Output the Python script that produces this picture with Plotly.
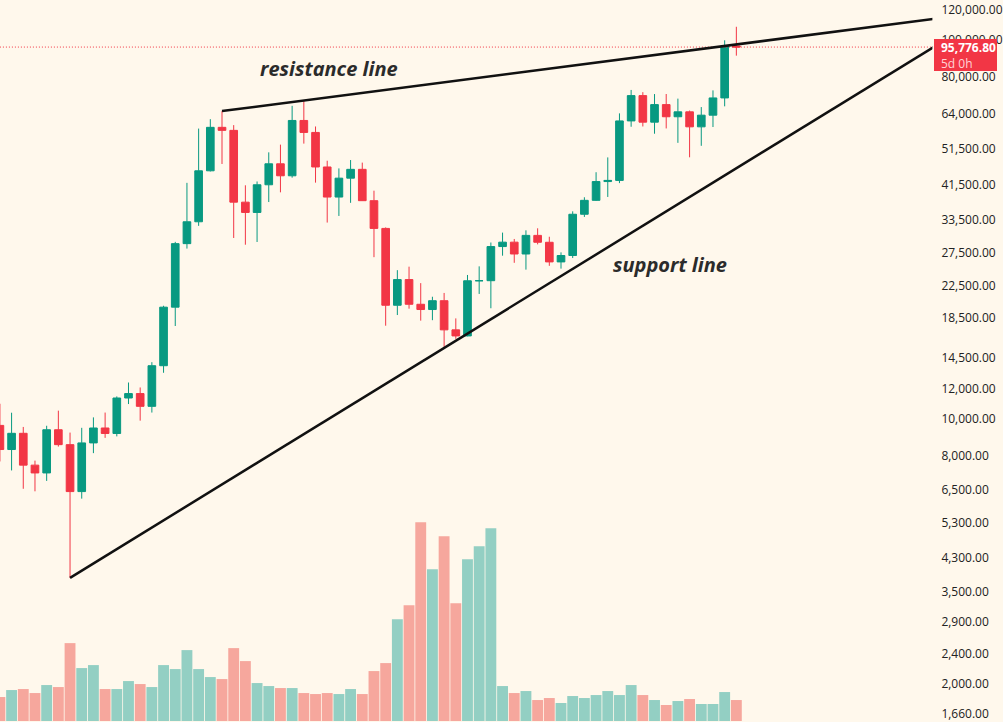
import numpy as np
import pandas as pd
import plotly.graph_objects as go

# ---------------- data (BTCUSD, 1M candles) ----------------
months = [str(p) for p in pd.period_range("2019-09", "2024-12", freq="M")]
future_months = [str(p) for p in pd.period_range("2025-01", "2026-06", freq="M")]

opens = [9600, 8290, 9150, 7540, 7190, 9350, 8540, 6420, 8630, 9450,
         9140, 11340, 11650, 10780, 13800, 19700, 28990, 33110, 45140, 58790,
         57720, 37300, 35040, 41460, 47100, 43790, 61300, 57000, 46200, 38480,
         43160, 45540, 37640, 31800, 19930, 23300, 20050, 19420, 20490, 17160,
         16540, 23130, 23140, 28480, 29250, 27220, 30480, 29230, 25940, 26970,
         34660, 37720, 42280, 42580, 61130, 71300, 60670, 67500, 62700, 64600,
         58970, 63300, 70300, 96400]
highs = [10950, 10370, 9510, 7750, 9580, 10500, 9190, 9460, 10080, 10380,
         11450, 12460, 12090, 14100, 19870, 29300, 41950, 58350, 61780, 64900,
         59590, 41330, 42300, 50500, 52920, 67000, 69000, 59100, 47990, 45800,
         48190, 47440, 40000, 31990, 24670, 25200, 22800, 20990, 21480, 18400,
         23960, 25250, 29190, 31000, 29820, 31430, 31820, 30230, 27490, 35280,
         38430, 44750, 48970, 64000, 73800, 72800, 71980, 72000, 70000, 65100,
         66500, 73600, 99800, 108350]
lows = [7710, 7300, 6530, 6430, 6850, 8440, 3800, 6150, 8110, 8900,
        8980, 10930, 9880, 10380, 13220, 17570, 28130, 32300, 44960, 47050,
        30000, 28800, 29280, 37330, 39600, 43290, 53250, 42000, 32950, 34300,
        37150, 37700, 26700, 17600, 18780, 19520, 18150, 18200, 15480, 16250,
        16500, 21350, 19570, 26940, 25800, 24750, 28860, 25330, 24900, 26560,
        34100, 37600, 38500, 41880, 59000, 59100, 56550, 58400, 53500, 49000,
        52550, 58900, 66800, 90900]
closes = [8290, 9150, 7540, 7190, 9350, 8540, 6420, 8630, 9450, 9140,
          11340, 11650, 10780, 13800, 19700, 28990, 33110, 45140, 58790, 57720,
          37300, 35040, 41460, 47100, 43790, 61300, 57000, 46200, 38480, 43160,
          45540, 37640, 31800, 19930, 23300, 20050, 19420, 20490, 17160, 16540,
          23130, 23140, 28480, 29250, 27220, 30480, 29230, 25940, 26970, 34660,
          37720, 42280, 42580, 61130, 71300, 60670, 67500, 62700, 64600, 58970,
          63300, 70300, 96400, 95776.80]
# volume (estimated, thousands of BTC)
volumes = [24, 31, 32, 28, 36, 34, 78, 53, 56, 32,
           32, 40, 37, 34, 56, 52, 71, 52, 44, 42,
           73, 60, 38, 35, 33, 33, 28, 27, 28, 27,
           32, 27, 50, 58, 102, 116, 199, 152, 185, 118,
           162, 175, 193, 35, 28, 30, 21, 23, 18, 25,
           23, 26, 30, 26, 36, 26, 21, 16, 20, 22,
           17, 17, 29, 21]

price_ticks = [120000, 100000, 80000, 64000, 51500, 41500, 33500, 27500,
               22500, 18500, 14500, 12000, 10000, 8000, 6500, 5300, 4300,
               3500, 2900, 2400, 2000, 1660]
price_tick_labels = [f"{v:,.2f}" for v in price_ticks]

support_x = ["2020-03", "2026-05"]
support_y = [3800, 96300]
resistance_x = ["2021-04", "2026-05"]
resistance_y = [64900, 113800]

last_price = closes[-1]
countdown = "5d 0h"

# ---------------- styles ----------------
BG = "#FFF8EC"
UP = "#089981"
DOWN = "#F23645"
UP_VOL = "#93CFC3"
DOWN_VOL = "#F6A79D"
TXT = "#2B2B2B"

vol_colors = [UP_VOL if c >= o else DOWN_VOL for o, c in zip(opens, closes)]

fig = go.Figure()

fig.add_trace(go.Bar(
    x=months, y=volumes, marker=dict(color=vol_colors, line=dict(width=0)),
    yaxis="y2", showlegend=False, hoverinfo="skip"))

fig.add_trace(go.Candlestick(
    x=months, open=opens, high=highs, low=lows, close=closes,
    increasing=dict(line=dict(color=UP, width=1), fillcolor=UP),
    decreasing=dict(line=dict(color=DOWN, width=1), fillcolor=DOWN),
    whiskerwidth=0, showlegend=False))

fig.add_trace(go.Scatter(
    x=[months[0], future_months[-2]], y=[last_price, last_price], mode="lines",
    line=dict(color=DOWN, width=1, dash="1px,2px"), showlegend=False, hoverinfo="skip"))

fig.add_trace(go.Scatter(
    x=support_x, y=support_y, mode="lines",
    line=dict(color="#111111", width=2.5), showlegend=False, hoverinfo="skip"))
fig.add_trace(go.Scatter(
    x=resistance_x, y=resistance_y, mode="lines",
    line=dict(color="#111111", width=2.5), showlegend=False, hoverinfo="skip"))

W, H = 1003, 722
plot_right = 938
ymin_px_price = 1591.3
ymax_px_price = 127510

label_font = dict(size=20, color=TXT, family="Open Sans", style="italic", weight=700)

fig.update_layout(
    width=W, height=H,
    margin=dict(l=0, r=0, t=0, b=0),
    paper_bgcolor=BG, plot_bgcolor=BG,
    bargap=0.07, boxgap=0.345, boxgroupgap=0,
    showlegend=False,
    font=dict(family="Open Sans", color=TXT),
    xaxis=dict(type="category", categoryarray=months + future_months,
               range=[0.0085, 79.77], domain=[0, plot_right / W],
               showgrid=False, showticklabels=False, zeroline=False,
               showline=False, ticks="", rangeslider=dict(visible=False)),
    yaxis=dict(type="log", side="right",
               range=[np.log10(ymin_px_price), np.log10(ymax_px_price)],
               tickvals=price_ticks, ticktext=price_tick_labels,
               tickfont=dict(size=12, color="#222222", family="Open Sans"),
               showgrid=False, zeroline=False, showline=False, ticks="",
               ticklabelstandoff=8, ticklabeloverflow="allow"),
    yaxis2=dict(overlaying="y", range=[0, 722], visible=False,
                showgrid=False, zeroline=False),
    annotations=[
        dict(xref="paper", yref="paper", x=330.5 / W, y=1 - 69 / H,
             xanchor="center", yanchor="middle",
             text="resistance line", showarrow=False, font=label_font),
        dict(xref="paper", yref="paper", x=674.5 / W, y=1 - 265 / H,
             xanchor="center", yanchor="middle",
             text="support line", showarrow=False, font=label_font),
        dict(xref="paper", x=1, xanchor="right", yref="y", y=np.log10(last_price),
             yanchor="top", yshift=8, text=" ", showarrow=False,
             width=63, height=32, bgcolor=DOWN, borderpad=0, borderwidth=0),
        dict(xref="paper", x=947 / W, xanchor="left", yref="y", y=np.log10(last_price),
             yanchor="top", yshift=8, showarrow=False, align="left",
             text=f"<b>{last_price:,.2f}</b><br><span style='color:#FFD3D6'>{countdown}</span>",
             font=dict(size=12, color="#FFFFFF", family="Open Sans"),
             borderpad=0, borderwidth=0),
    ],
)

fig.write_html("out.html")
